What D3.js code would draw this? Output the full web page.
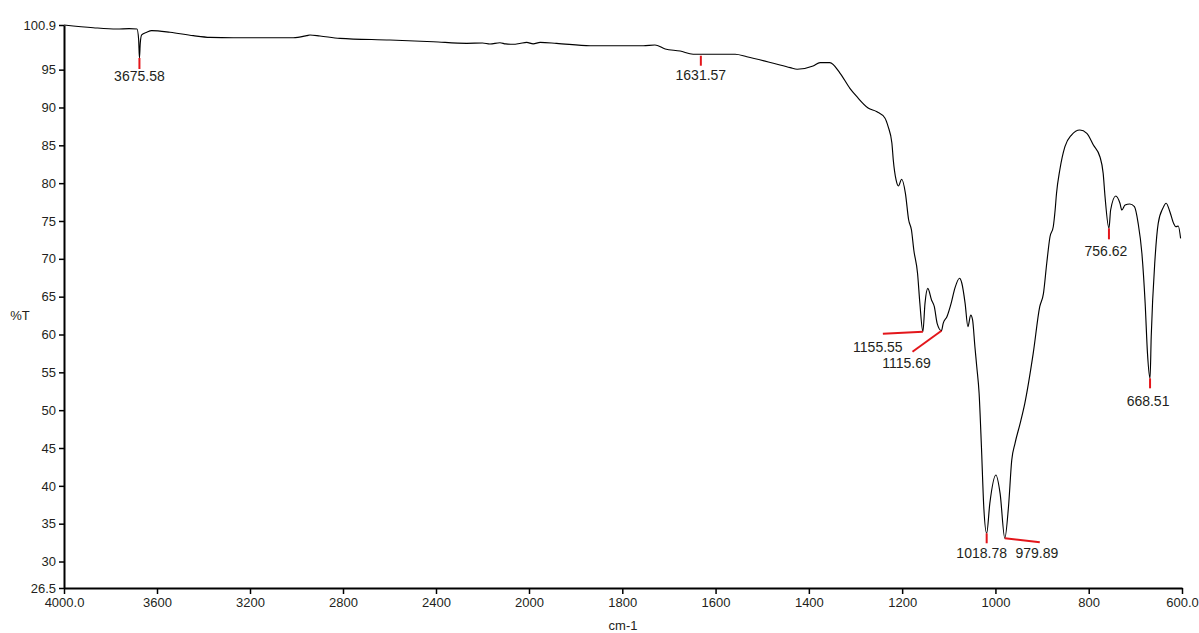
<!DOCTYPE html>
<html>
<head>
<meta charset="utf-8">
<script src="https://cdn.jsdelivr.net/npm/d3@7"></script>
<style>
  html, body { margin: 0; padding: 0; background: #fff; }
  svg { display: block; }
  text { font-family: "Liberation Sans", Arial, sans-serif; fill: #231f20; }
</style>
</head>
<body>
<svg id="chart" width="1199" height="633"></svg>
<script>
// ---- data ----
const wavenumbers = [
  4000, 3874, 3773, 3720, 3686, 3679, 3675.58, 3672, 3666, 3644, 3623, 3544, 3444, 3372, 3272,
  3014, 2956, 2942, 2899, 2813, 2598, 2412, 2268, 2200, 2168, 2125, 2100, 2068, 2040, 2010,
  1991, 1976, 1941, 1869, 1755, 1730, 1708, 1676, 1648, 1631.57, 1558, 1533, 1476, 1440, 1425,
  1391, 1376, 1355, 1333, 1312, 1297, 1273, 1254, 1237, 1230, 1222, 1219, 1213, 1208, 1201,
  1193, 1186, 1180, 1175, 1167, 1162, 1155.55, 1151, 1145, 1137, 1131, 1125, 1115.69, 1112, 1104,
  1095, 1087, 1077, 1072, 1065, 1059, 1053, 1049, 1044, 1040, 1035, 1030, 1025, 1018.78, 1012,
  999, 990, 979.89, 972, 965, 958, 947, 937, 919, 905, 897, 890, 883, 876, 872,
  869, 862, 851, 837, 819, 804, 790, 776, 769, 765, 756.62, 753, 742, 733, 729,
  722, 712, 702, 694, 686, 679, 674, 668.51, 666, 658, 651, 641, 634, 626, 618,
  613, 608, 603
];
const transmittance = [
  100.9, 100.54, 100.37, 100.42, 100.37, 99.0, 96.54, 98.5, 99.6, 99.94, 100.15, 99.94, 99.49, 99.27, 99.22,
  99.22, 99.49, 99.58, 99.45, 99.14, 98.92, 98.69, 98.48, 98.52, 98.39, 98.56, 98.40, 98.35, 98.45, 98.6,
  98.4, 98.6, 98.48, 98.16, 98.16, 98.26, 97.73, 97.46, 97.03, 97.03, 97.03, 96.71, 95.84, 95.26, 95.05,
  95.48, 95.92, 95.92, 94.52, 92.53, 91.42, 89.93, 89.44, 88.61, 87.46, 85.31, 83.06, 80.42, 79.62, 80.51,
  78.66, 75.13, 73.81, 71.17, 68.09, 64.12, 60.37, 64.12, 66.10, 64.56, 63.67, 61.48, 60.50, 61.48, 62.35,
  64.12, 66.10, 67.43, 66.77, 64.12, 61.03, 62.58, 61.92, 58.39, 55.74, 52.23, 45.17, 37.24, 33.73, 37.69,
  41.43, 39.01, 33.07, 37.24, 43.41, 45.62, 48.26, 50.91, 57.51, 63.67, 65.44, 69.41, 72.92, 74.24, 76.45,
  78.66, 81.74, 84.82, 86.36, 87.02, 86.58, 85.04, 83.49, 81.30, 78.21, 74.03, 76.45, 78.30, 77.34, 76.45,
  77.11, 77.24, 76.89, 74.69, 70.73, 64.12, 57.51, 54.21, 59.71, 69.84, 74.69, 76.68, 77.34, 76.23, 74.69,
  74.24, 74.34, 72.71
];
const peakWavenumbers = [3675.58, 1631.57, 1155.55, 1115.69, 1018.78, 979.89, 756.62, 668.51];
const peakTransmittance = [96.54, 96.84, 60.37, 60.50, 33.73, 33.07, 74.03, 54.21];
const peakLabels = ["3675.58", "1631.57", "1155.55", "1115.69", "1018.78", "979.89", "756.62", "668.51"];
const xTickValues = [4000, 3600, 3200, 2800, 2400, 2000, 1800, 1600, 1400, 1200, 1000, 800, 600];
const xTickLabels = ["4000.0", "3600", "3200", "2800", "2400", "2000", "1800", "1600", "1400", "1200", "1000", "800", "600.0"];
const yTickValues = [100.9, 95, 90, 85, 80, 75, 70, 65, 60, 55, 50, 45, 40, 35, 30, 26.5];
const yTickLabels = ["100.9", "95", "90", "85", "80", "75", "70", "65", "60", "55", "50", "45", "40", "35", "30", "26.5"];
const xTitle = "cm-1";
const yTitle = "%T";

// ---- layout ----
const plotLeft = 64, plotRight = 1182, plotTop = 25, plotBottom = 588;
const svg = d3.select("#chart");

// split wavenumber axis (scale doubles below 2000 cm-1)
const x = d3.scaleLinear().domain([4000, 2000, 600]).range([plotLeft, 529, plotRight]);
const y = d3.scaleLinear().domain([26.5, 100.9]).range([plotBottom, plotTop]);

// axes
const xAxis = d3.axisBottom(x)
  .tickValues(xTickValues)
  .tickFormat((d, i) => xTickLabels[i])
  .tickSizeInner(6).tickSizeOuter(0).tickPadding(4);
const yAxis = d3.axisLeft(y)
  .tickValues(yTickValues)
  .tickFormat((d, i) => yTickLabels[i])
  .tickSizeInner(5).tickSizeOuter(0).tickPadding(3);

const gx = svg.append("g").attr("transform", `translate(0,${plotBottom})`).call(xAxis);
const gy = svg.append("g").attr("transform", `translate(${plotLeft},0)`).call(yAxis);
[gx, gy].forEach(g => {
  g.select(".domain").attr("stroke", "#000").attr("stroke-width", 2);
  g.selectAll(".tick line").attr("stroke", "#000").attr("stroke-width", 1.5);
  g.selectAll(".tick text").style("font-family", '"Liberation Sans", Arial, sans-serif')
    .style("font-size", "13px").attr("fill", "#231f20");
});

// titles
svg.append("text").attr("x", 20).attr("y", 320).attr("text-anchor", "middle")
  .style("font-size", "13px").text(yTitle);
svg.append("text").attr("x", (plotLeft + plotRight) / 2).attr("y", 630).attr("text-anchor", "middle")
  .style("font-size", "13px").text(xTitle);

// spectrum
const spectrum = wavenumbers.map((w, i) => [w, transmittance[i]]);
const line = d3.line().x(d => x(d[0])).y(d => y(d[1])).curve(d3.curveMonotoneX);
svg.append("path").datum(spectrum)
  .attr("fill", "none").attr("stroke", "#000").attr("stroke-width", 1.15)
  .attr("stroke-linejoin", "round").attr("d", line);

// peak markers: marker end offsets and label offsets (pixels, relative to the peak)
const markerEnd = [[0, 11], [0, 10], [-40, 2], [-29, 21], [0, 10], [35, 4], [0, 11], [0, 10]];
const labelPos = [[0, 23], [0, 24], [-45, 20], [-35, 37], [-5, 25], [32, 20], [-3, 28], [-2, 28]];
peakWavenumbers.forEach((w, i) => {
  const px = x(w), py = y(peakTransmittance[i]);
  svg.append("line")
    .attr("x1", px).attr("y1", py)
    .attr("x2", px + markerEnd[i][0]).attr("y2", py + markerEnd[i][1])
    .attr("stroke", "#e3161b").attr("stroke-width", 2);
  svg.append("text")
    .attr("x", px + labelPos[i][0]).attr("y", py + labelPos[i][1])
    .attr("text-anchor", "middle").style("font-size", "14px")
    .text(peakLabels[i]);
});
</script>
</body>
</html>
